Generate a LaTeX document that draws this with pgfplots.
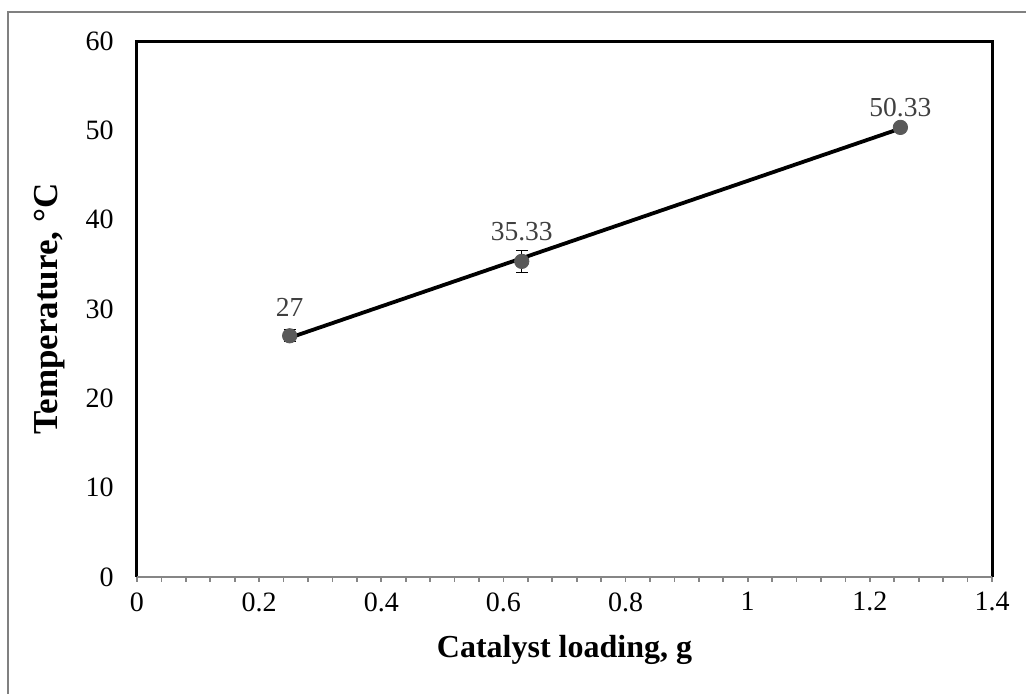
\documentclass[border=0pt]{standalone}
\usepackage{pgfplots}
\pgfplotsset{compat=1.18}
\usepackage{pgfplotstable}
\usepackage{fontspec}
\setmainfont{Liberation Serif}

\definecolor{markgray}{RGB}{89,89,89}
\definecolor{labelgray}{RGB}{64,64,64}
\definecolor{axisgray}{RGB}{134,134,134}
\definecolor{framegray}{RGB}{128,128,128}

% loading (g), temperature (C), error, label, label offset (pt)
\pgfplotstableread{
x     y      err   lab    off
0.25  27     0.67  27     14
0.63  35.33  1.2   35.33  15
1.25  50.33  0     50.33  10
}\tempdata

% linear trend line end points
\pgfplotstableread{
x     y
0.25  26.78
1.25  50.20
}\trenddata

\begin{document}
\begin{tikzpicture}
\path[use as bounding box] (-68.5pt,-58.5pt) rectangle (444.5pt,288.5pt);
\draw[framegray, line width=0.8pt] (-64.5pt,-60pt) -- (-64.5pt,282.5pt) -- (446pt,282.5pt);
\begin{axis}[
  at={(0pt,0pt)}, anchor=origin,
  scale only axis,
  width=427.5pt, height=268pt,
  xmin=0, xmax=1.4, ymin=0, ymax=60,
  xtick={0,0.2,...,1.4},
  ytick={0,10,...,60},
  minor x tick num=4,
  xtick pos=bottom,
  tick align=outside,
  major tick length=2.5pt,
  minor tick length=2.5pt,
  xtick style={axisgray, line width=0.8pt},
  minor x tick style={axisgray, line width=0.8pt},
  ytick style={draw=none},
  axis line style={draw=none},
  /pgf/number format/assume math mode=true,
  xticklabel style={font=\fontsize{14}{16}\selectfont, inner sep=0pt, yshift=-5pt},
  yticklabel style={font=\fontsize{14}{16}\selectfont, inner sep=0pt, xshift=-9pt},
  xticklabel={\pgfmathprintnumber[fixed, precision=2]{\tick}},
  xlabel={Catalyst loading, g},
  ylabel={Temperature, °C},
  every axis x label/.style={at={(axis description cs:0.5,-0.136)}, anchor=center, font=\fontsize{16}{19}\selectfont\bfseries},
  every axis y label/.style={at={(axis description cs:-0.1018,0.5)}, rotate=90, anchor=center, font=\fontsize{17.5}{20}\selectfont\bfseries},
  clip=false,
]
% plot area frame and horizontal axis
\draw[black, line width=1.5pt] (rel axis cs:0,0) -- (rel axis cs:0,1) -- (rel axis cs:1,1) -- (rel axis cs:1,0);
\draw[axisgray, line width=1pt] (rel axis cs:0,0) -- (rel axis cs:1,0);

% measured points with error bars
\addplot[
  only marks,
  mark=*, mark size=3.6pt,
  mark options={fill=markgray, draw=markgray},
  error bars/.cd, y dir=both, y explicit,
  error bar style={black, line width=0.6pt},
  error mark options={rotate=90, mark size=3pt, black, line width=0.6pt},
] table[x=x, y=y, y error=err] {\tempdata};

% trend line
\addplot[black, line width=1.9pt, no marks] table[x=x, y=y] {\trenddata};

% value labels
\addplot[
  only marks, mark=none,
  point meta=explicit symbolic,
  visualization depends on={\thisrow{off}\as\laboff},
  nodes near coords,
  every node near coord/.append style={anchor=center, yshift=\laboff pt, font=\fontsize{13.75}{16}\selectfont, text=labelgray, inner sep=0pt},
] table[x=x, y=y, meta=lab] {\tempdata};
\end{axis}
\end{tikzpicture}
\end{document}
